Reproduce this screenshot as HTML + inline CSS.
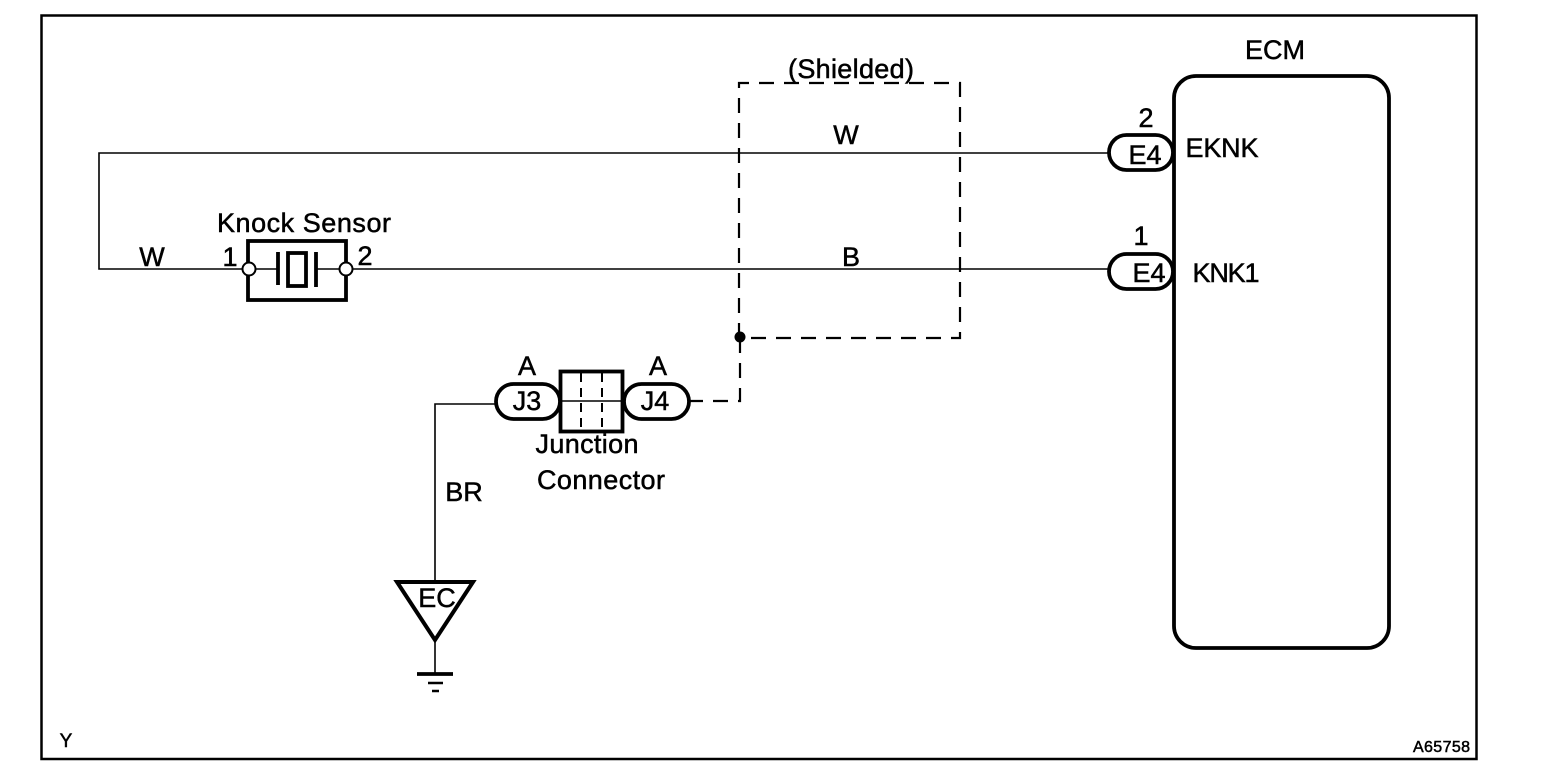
<!DOCTYPE html>
<html><head><meta charset="utf-8"><style>
html,body{margin:0;padding:0;background:#fff;width:1568px;height:784px;overflow:hidden}
svg{display:block}
text{font-family:"Liberation Sans",Arial,sans-serif;fill:#000;stroke:#000;stroke-width:.5px;font-size:27px;text-anchor:middle}
</style></head><body>
<svg width="1568" height="784" viewBox="0 0 1568 784" xmlns="http://www.w3.org/2000/svg">
<rect width="1568" height="784" fill="#fff"/>
<!-- frame -->
<rect x="41.500" y="15.500" width="1435" height="743.500" fill="none" stroke="#000" stroke-width="2.500"/>
<!-- wires -->
<g fill="none" stroke="#000" stroke-width="1.600">
<path d="M1109 153H99V269H243"/>
<path d="M353 269H1109"/>
<path d="M435 581V404H496"/>
<path d="M435 640V674"/>
<path d="M256 269H278M316 269H340"/>
</g>
<!-- shield -->
<g fill="none" stroke="#000" stroke-width="2.200" stroke-dasharray="15 10">
<path d="M739 338V83H960V338H739"/>
<path d="M740 338V401H690"/>
</g>
<circle cx="740" cy="337" r="5.500" fill="#000"/>
<!-- knock sensor -->
<g fill="none" stroke="#000">
<rect x="248" y="241" width="98" height="59" stroke-width="3.800"/>
<path d="M278 252V285M316 252V287" stroke-width="3.800"/>
<rect x="288" y="253" width="18" height="33" stroke-width="3.800"/>
</g>
<circle cx="249" cy="269" r="6.500" fill="#fff" stroke="#000" stroke-width="2"/>
<circle cx="346" cy="269" r="6.500" fill="#fff" stroke="#000" stroke-width="2"/>
<!-- junction -->
<g fill="none" stroke="#000">
<rect x="560.500" y="371.500" width="62" height="60" stroke-width="3.800"/>
<path d="M581 373V431M602 373V431" stroke-width="2" stroke-dasharray="9 6"/>
</g>
<path d="M560 401H622" stroke="#000" stroke-width="1.500"/>
<rect x="496" y="384" width="64" height="35" rx="17.500" fill="#fff" stroke="#000" stroke-width="3.800"/>
<rect x="624" y="384" width="65" height="35" rx="17.500" fill="#fff" stroke="#000" stroke-width="3.800"/>
<!-- ECM -->
<rect x="1174" y="76" width="215" height="572" rx="22" fill="#fff" stroke="#000" stroke-width="3.800"/>
<rect x="1109" y="135" width="64" height="35" rx="17.500" fill="#fff" stroke="#000" stroke-width="3.800"/>
<rect x="1109" y="254" width="64" height="35" rx="17.500" fill="#fff" stroke="#000" stroke-width="3.800"/>
<!-- ground -->
<path d="M397 582H473L435 640Z" fill="#fff" stroke="#000" stroke-width="4"/>
<path d="M417 674H453" stroke="#000" stroke-width="3.800"/>
<path d="M428 683H443M432 691H439" stroke="#000" stroke-width="2.500"/>
<!-- labels -->
<text x="304" y="232" textLength="174" lengthAdjust="spacing">Knock Sensor</text>
<text x="152" y="266">W</text>
<text x="230" y="266">1</text>
<text x="365" y="265">2</text>
<text x="846" y="144">W</text>
<text x="851" y="266">B</text>
<text x="851" y="78" textLength="126" lengthAdjust="spacing">(Shielded)</text>
<text x="1275" y="59" textLength="60" lengthAdjust="spacing">ECM</text>
<text x="1146" y="127">2</text>
<text x="1141" y="245">1</text>
<text x="1145" y="164">E4</text>
<text x="1149" y="282">E4</text>
<text x="1222" y="157" textLength="73" lengthAdjust="spacing">EKNK</text>
<text x="1226" y="282" textLength="67" lengthAdjust="spacing">KNK1</text>
<text x="527" y="375">A</text>
<text x="658" y="375">A</text>
<text x="527" y="410">J3</text>
<text x="655" y="410">J4</text>
<text x="587" y="453" textLength="103" lengthAdjust="spacing">Junction</text>
<text x="601" y="489" textLength="128" lengthAdjust="spacing">Connector</text>
<text x="464" y="501">BR</text>
<text x="437" y="607">EC</text>
<text x="66" y="747" style="font-size:19px">Y</text>
<text x="1441.500" y="752" textLength="57" lengthAdjust="spacing" style="font-size:16px">A65758</text>
</svg>
</body></html>
